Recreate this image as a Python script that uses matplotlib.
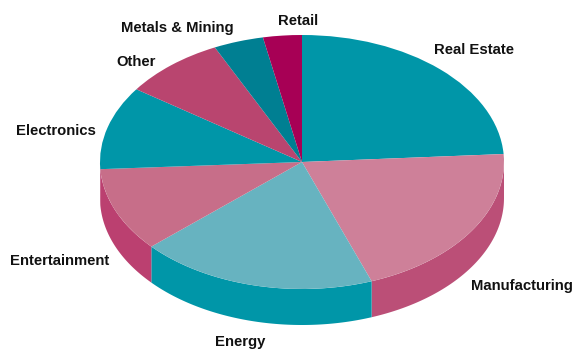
import numpy as np
import matplotlib
matplotlib.use('Agg')
import matplotlib.pyplot as plt

labels = ['Real Estate', 'Manufacturing', 'Energy', 'Entertainment',
          'Electronics', 'Other', 'Metals & Mining', 'Retail']
shares = [24.0, 20.4, 19.0, 10.7, 10.6, 8.2, 4.0, 3.1]
top_colors = ['#0096a8', '#ce8099', '#67b3c0', '#c76e89',
              '#0096a8', '#b9456f', '#007f92', '#a70055']
side_colors = ['#0096a8', '#bb4f77', '#0096a8', '#bb4070',
               '#bb4070', '#b9456f', '#007f92', '#a70055']

W, H = 574, 349
CX, CY = 302, 162
RX, RY = 202, 127
DEPTH = 36 / RY

label_px = {
    'Real Estate': (434, 54),
    'Manufacturing': (471, 290),
    'Energy': (215, 346),
    'Entertainment': (10, 265),
    'Electronics': (16, 135),
    'Other': (116, 66),
    'Metals & Mining': (121, 32),
    'Retail': (278, 25),
}

fig = plt.figure(figsize=(W / 100, H / 100), dpi=100)
ax = fig.add_axes([0, 0, 1, 1])

wedges, _ = ax.pie(shares, colors=top_colors, startangle=90, counterclock=False,
                   wedgeprops={'linewidth': 0, 'zorder': 3})

# the pie call forces equal aspect, squash it into an ellipse instead
ax.set_aspect('auto')
ax.set_xlim(-CX / RX, (W - CX) / RX)
ax.set_ylim((CY - H) / RY, CY / RY)
ax.axis('off')

# rim below the front half of the pie
bounds = np.cumsum([0] + shares) / sum(shares) * 360
for i in range(len(shares)):
    a0 = max(bounds[i], 90)
    a1 = min(bounds[i + 1], 270)
    if a1 <= a0:
        continue
    t = np.radians(np.linspace(a0, a1, 80))
    x = np.sin(t)
    y = np.cos(t)
    ax.fill(np.r_[x, x[::-1]], np.r_[y, y[::-1] - DEPTH],
            color=side_colors[i], lw=0, zorder=2)

plt.rcParams['font.family'] = ['Liberation Sans', 'DejaVu Sans']
for name in labels:
    px, py = label_px[name]
    fig.text(px / W, 1 - py / H, name, ha='left', va='baseline',
             fontsize=10.7, fontweight='bold', color='#111111')

fig.savefig('out.png', dpi=100)
